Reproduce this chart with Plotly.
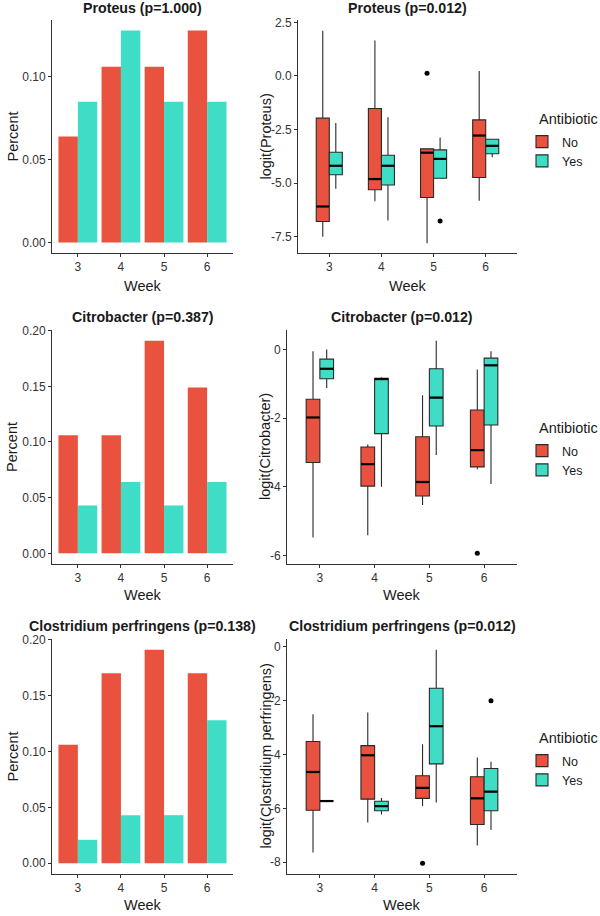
import plotly.graph_objects as go
from plotly.subplots import make_subplots

# ---------------- data ----------------
weeks = [3, 4, 5, 6]
groups = ["No", "Yes"]

bar_titles = ["Proteus (p=1.000)", "Citrobacter (p=0.387)", "Clostridium perfringens (p=0.138)"]
box_titles = ["Proteus (p=0.012)", "Citrobacter (p=0.012)", "Clostridium perfringens (p=0.012)"]
box_ytitles = ["logit(Proteus)", "logit(Citrobacter)", "logit(Clostridium perfringens)"]
legend_title = "Antibiotic"

proteus_pct_no = [0.064, 0.106, 0.106, 0.128]
proteus_pct_yes = [0.085, 0.128, 0.085, 0.085]
citro_pct_no = [0.106, 0.106, 0.191, 0.149]
citro_pct_yes = [0.043, 0.064, 0.043, 0.064]
clost_pct_no = [0.106, 0.170, 0.191, 0.170]
clost_pct_yes = [0.021, 0.043, 0.043, 0.128]

# box statistics: lowerfence, q1, median, q3, upperfence per week
proteus_no_lower = [-7.50, -5.85, -7.80, -5.82]
proteus_no_q1 = [-6.79, -5.31, -5.67, -4.74]
proteus_no_med = [-6.09, -4.81, -3.58, -2.78]
proteus_no_q3 = [-1.97, -1.52, -3.40, -2.05]
proteus_no_upper = [2.11, 1.65, -3.40, 0.23]
proteus_yes_lower = [-5.26, -6.74, -4.77, -3.79]
proteus_yes_q1 = [-4.61, -5.09, -4.77, -3.63]
proteus_yes_med = [-4.19, -4.19, -3.87, -3.26]
proteus_yes_q3 = [-3.56, -3.70, -3.45, -2.95]
proteus_yes_upper = [-2.20, -1.93, -2.87, -2.95]
proteus_out_no_weeks, proteus_out_no_vals = [5], [0.12]
proteus_out_yes_weeks, proteus_out_yes_vals = [5], [-6.77]

citro_no_lower = [-5.48, -5.41, -4.53, -3.49]
citro_no_q1 = [-3.29, -3.98, -4.27, -3.42]
citro_no_med = [-1.98, -3.34, -3.86, -2.93]
citro_no_q3 = [-1.45, -2.84, -2.54, -1.76]
citro_no_upper = [-0.05, -2.77, -1.33, -0.58]
citro_yes_lower = [-1.12, -4.00, -3.07, -3.92]
citro_yes_q1 = [-0.85, -2.45, -2.23, -2.20]
citro_yes_med = [-0.56, -0.86, -1.40, -0.46]
citro_yes_q3 = [-0.28, -0.84, -0.56, -0.25]
citro_yes_upper = [0.00, -0.81, 0.26, -0.05]
citro_out_no_weeks, citro_out_no_vals = [6], [-5.94]
citro_out_yes_weeks, citro_out_yes_vals = [], []

clost_no_lower = [-7.64, -6.53, -5.91, -7.38]
clost_no_q1 = [-6.07, -5.66, -5.63, -6.60]
clost_no_med = [-4.65, -4.03, -5.24, -5.63]
clost_no_q3 = [-3.52, -3.67, -4.79, -4.83]
clost_no_upper = [-2.51, -2.44, -3.62, -4.11]
clost_yes_lower = [-5.73, -6.23, -5.78, -6.81]
clost_yes_q1 = [-5.73, -6.09, -4.35, -6.09]
clost_yes_med = [-5.73, -5.92, -2.95, -5.38]
clost_yes_q3 = [-5.73, -5.74, -1.54, -4.52]
clost_yes_upper = [-5.73, -5.62, -0.11, -4.27]
clost_out_no_weeks, clost_out_no_vals = [5], [-8.04]
clost_out_yes_weeks, clost_out_yes_vals = [6], [-2.00]

bar_ytickvals = [[0, 0.05, 0.10], [0, 0.05, 0.10, 0.15, 0.20], [0, 0.05, 0.10, 0.15, 0.20]]
bar_yticktext = [["0.00", "0.05", "0.10"], ["0.00", "0.05", "0.10", "0.15", "0.20"],
                 ["0.00", "0.05", "0.10", "0.15", "0.20"]]
box_ytickvals = [[-7.5, -5, -2.5, 0, 2.5], [-6, -4, -2, 0], [-8, -6, -4, -2, 0]]
box_yticktext = [["-7.5", "-5.0", "-2.5", "0.0", "2.5"], ["-6", "-4", "-2", "0"],
                 ["-8", "-6", "-4", "-2", "0"]]

# ---------------- styling ----------------
W, H = 600, 916
FONT = "Liberation Sans, Arial, Helvetica, sans-serif"
COL = {"No": "#E8523E", "Yes": "#3FDCC6"}
DODGE = {"No": -0.125, "Yes": 0.125}
HALF = 0.122
TXT = "#1a1a1a"


def px_x(p):
    return p / W


def px_y(p):
    return 1 - p / H


bar_data = [
    {"No": proteus_pct_no, "Yes": proteus_pct_yes},
    {"No": citro_pct_no, "Yes": citro_pct_yes},
    {"No": clost_pct_no, "Yes": clost_pct_yes},
]
box_data = [
    {"No": (proteus_no_lower, proteus_no_q1, proteus_no_med, proteus_no_q3, proteus_no_upper,
            proteus_out_no_weeks, proteus_out_no_vals),
     "Yes": (proteus_yes_lower, proteus_yes_q1, proteus_yes_med, proteus_yes_q3, proteus_yes_upper,
             proteus_out_yes_weeks, proteus_out_yes_vals)},
    {"No": (citro_no_lower, citro_no_q1, citro_no_med, citro_no_q3, citro_no_upper,
            citro_out_no_weeks, citro_out_no_vals),
     "Yes": (citro_yes_lower, citro_yes_q1, citro_yes_med, citro_yes_q3, citro_yes_upper,
             citro_out_yes_weeks, citro_out_yes_vals)},
    {"No": (clost_no_lower, clost_no_q1, clost_no_med, clost_no_q3, clost_no_upper,
            clost_out_no_weeks, clost_out_no_vals),
     "Yes": (clost_yes_lower, clost_yes_q1, clost_yes_med, clost_yes_q3, clost_yes_upper,
             clost_out_yes_weeks, clost_out_yes_vals)},
]

bar_yrange = [[-0.0064, 0.1343], [-0.0096, 0.2006], [-0.0096, 0.2006]]
box_yrange = [[-8.26, 2.61], [-6.25, 0.57], [-8.44, 0.29]]

# pixel layout (window pixels)
row_px = [(20, 253), (330, 564), (639, 874)]
left_px = (52, 233)
right_px = [(298, 517), (287, 517), (287, 517)]
title_px = [8, 317, 626]
week_px = [286, 595, 905]
legend_title_px = [119, 428, 738]
legend_items_px = [127, 436, 746]

fig = make_subplots(rows=3, cols=2)

legend_names = ["legend", "legend2", "legend3"]

for r in range(3):
    for g in groups:
        fig.add_trace(go.Bar(x=weeks, y=bar_data[r][g], name=g, marker_color=COL[g],
                             marker_line_width=0, showlegend=False), row=r + 1, col=1)
    for g in groups:
        lo, q1, med, q3, up, ow, ov = box_data[r][g]
        fig.add_trace(go.Box(x=weeks, lowerfence=lo, q1=q1, median=med, q3=q3, upperfence=up,
                             name=g, fillcolor=COL[g], line=dict(color="#2a2a2a", width=1.1),
                             whiskerwidth=0, boxpoints=False, offsetgroup=g,
                             legend=legend_names[r], showlegend=True), row=r + 1, col=2)
    # thicker median bars (ggplot style)
    for g in groups:
        lo, q1, med, q3, up, ow, ov = box_data[r][g]
        mx, my = [], []
        for w, m in zip(weeks, med):
            mx += [w + DODGE[g] - HALF, w + DODGE[g] + HALF, None]
            my += [m, m, None]
        fig.add_trace(go.Scatter(x=mx, y=my, mode="lines", line=dict(color="black", width=2.2),
                                 showlegend=False, hoverinfo="skip"), row=r + 1, col=2)
    for g in groups:
        lo, q1, med, q3, up, ow, ov = box_data[r][g]
        if ow:
            fig.add_trace(go.Scatter(x=[w + DODGE[g] for w in ow], y=ov, mode="markers",
                                     marker=dict(color="black", size=5), showlegend=False,
                                     hoverinfo="skip"), row=r + 1, col=2)

axis_common = dict(showline=True, linecolor="#333333", linewidth=1, ticks="outside", ticklen=3,
                   tickcolor="#333333", showgrid=False, zeroline=False,
                   tickfont=dict(family=FONT, size=12, color="#333333"))

for r in range(3):
    top, bot = row_px[r]
    ydom = [px_y(bot), px_y(top)]
    fig.update_xaxes(domain=[px_x(left_px[0]), px_x(left_px[1])], range=[2.4, 6.6],
                     tickvals=weeks, **axis_common, row=r + 1, col=1)
    fig.update_yaxes(domain=ydom, range=bar_yrange[r], tickvals=bar_ytickvals[r],
                     ticktext=bar_yticktext[r], **axis_common, row=r + 1, col=1)
    fig.update_xaxes(domain=[px_x(right_px[r][0]), px_x(right_px[r][1])], range=[2.4, 6.6],
                     tickvals=weeks, **axis_common, row=r + 1, col=2)
    fig.update_yaxes(domain=ydom, range=box_yrange[r], tickvals=box_ytickvals[r],
                     ticktext=box_yticktext[r], **axis_common, row=r + 1, col=2)

annotations = []
for r in range(3):
    top, bot = row_px[r]
    lc = (left_px[0] + left_px[1]) / 2
    rc = (right_px[r][0] + right_px[r][1]) / 2
    ymid = px_y((top + bot) / 2)
    for xc, t in [(lc, bar_titles[r]), (rc, box_titles[r])]:
        annotations.append(dict(text="<b>" + t + "</b>", x=px_x(xc), y=px_y(title_px[r]),
                                xref="paper", yref="paper", showarrow=False, xanchor="center",
                                yanchor="middle", font=dict(family=FONT, size=14.2, color=TXT)))
        annotations.append(dict(text="Week", x=px_x(xc), y=px_y(week_px[r]), xref="paper",
                                yref="paper", showarrow=False, xanchor="center", yanchor="middle",
                                font=dict(family=FONT, size=14.5, color=TXT)))
    annotations.append(dict(text="Percent", x=px_x(12), y=ymid, xref="paper", yref="paper",
                            showarrow=False, textangle=-90, xanchor="center", yanchor="middle",
                            font=dict(family=FONT, size=14.5, color=TXT)))
    annotations.append(dict(text=box_ytitles[r], x=px_x(265), y=ymid, xref="paper", yref="paper",
                            showarrow=False, textangle=-90, xanchor="center", yanchor="middle",
                            font=dict(family=FONT, size=14.5, color=TXT)))
    annotations.append(dict(text=legend_title, x=px_x(537), y=px_y(legend_title_px[r]),
                            xref="paper", yref="paper", showarrow=False, xanchor="left",
                            yanchor="middle", font=dict(family=FONT, size=14.5, color=TXT)))

legend_style = dict(x=px_x(522), xanchor="left", yanchor="top", bgcolor="rgba(0,0,0,0)",
                    font=dict(family=FONT, size=12.5, color=TXT),
                    tracegroupgap=0, itemwidth=30)

fig.update_layout(
    width=W, height=H, margin=dict(l=0, r=0, t=0, b=0, autoexpand=False),
    paper_bgcolor="white", plot_bgcolor="white",
    barmode="group", bargap=0.1, bargroupgap=0,
    boxmode="group", boxgap=0.5, boxgroupgap=0,
    annotations=annotations,
    legend=dict(y=px_y(legend_items_px[0]), **legend_style),
    legend2=dict(y=px_y(legend_items_px[1]), **legend_style),
    legend3=dict(y=px_y(legend_items_px[2]), **legend_style),
    font=dict(family=FONT),
)

fig.write_html("out.html", config={"displayModeBar": False},
               post_script="document.body.style.margin='0px';document.body.style.overflow='hidden';")
